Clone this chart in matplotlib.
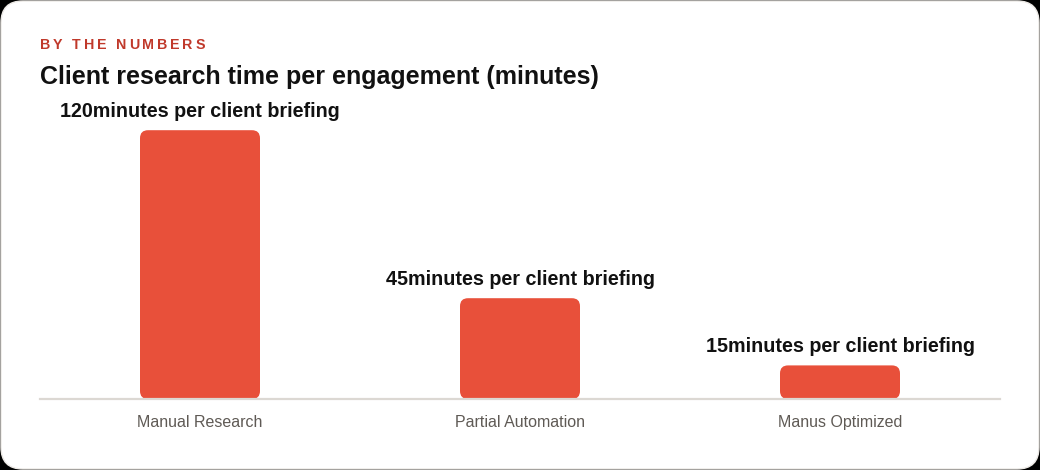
import matplotlib
matplotlib.use("Agg")
import matplotlib.pyplot as plt
from matplotlib.patches import FancyBboxPatch

categories = ["Manual Research", "Partial Automation", "Manus Optimized"]
values = [120, 45, 15]
value_labels = ["120minutes per client briefing", "45minutes per client briefing", "15minutes per client briefing"]
eyebrow = "BY THE NUMBERS"
title = "Client research time per engagement (minutes)"

W, H = 1040, 470
DPI = 100
plt.rcParams['font.family'] = ['Liberation Sans', 'DejaVu Sans']

fig = plt.figure(figsize=(W / DPI, H / DPI), dpi=DPI)
fig.patch.set_facecolor('black')

# card
card = FancyBboxPatch((1 / W, 1 / H), (W - 2) / W, (H - 2) / H,
                      boxstyle="round,pad=0,rounding_size=0.021",
                      mutation_aspect=W / H,
                      transform=fig.transFigure, facecolor='white',
                      edgecolor='#ece9e5', linewidth=1.0, zorder=-10)
fig.patches.append(card)

# axes geometry in pixels
x0, x1 = 40, 1000
y_base = 399
ymax = 140
px_per_unit = 2.24
top_px = y_base - ymax * px_per_unit
ax = fig.add_axes([x0 / W, 1 - y_base / H, (x1 - x0) / W, (y_base - top_px) / H])
ax.set_zorder(5)
ax.set_facecolor('none')
ax.set_xlim(-0.5, len(categories) - 0.5)
ax.set_ylim(0, ymax)

bar_color = '#E8503A'
bars = ax.bar(range(len(categories)), values, width=0.375, color=bar_color)
xu_per_px = (len(categories)) / (x1 - x0)
yu_per_px = 1 / px_per_unit
r_px = 8
for b in bars:
    b.set_visible(False)
    p = FancyBboxPatch((b.get_x(), b.get_y()), b.get_width(), b.get_height(),
                       boxstyle=f"round,pad=0,rounding_size={r_px * xu_per_px}",
                       mutation_aspect=yu_per_px / xu_per_px,
                       facecolor=bar_color, edgecolor='none', zorder=2)
    ax.add_patch(p)

for i, (v, lab) in enumerate(zip(values, value_labels)):
    ax.annotate(lab, (i, v), xytext=(0, 9.3), textcoords='offset points',
                ha='center', va='baseline', fontsize=14.2, fontweight='bold',
                color='#111111')

for s in ['top', 'right', 'left']:
    ax.spines[s].set_visible(False)
ax.spines['bottom'].set_color('#dcd8d3')
ax.spines['bottom'].set_linewidth(1.6)
ax.set_yticks([])
ax.set_xticks(range(len(categories)))
ax.set_xticklabels(categories, fontsize=11.5, color='#5f5a55')
ax.tick_params(axis='x', length=0, pad=11.5)

# title
fig.text(40 / W, 1 - 77 / H, title, fontsize=18, fontweight='bold', color='#111111',
         ha='left', va='center')

# eyebrow with letter spacing
renderer = fig.canvas.get_renderer()
x = 40.0
spacing = 2.8
for ch in eyebrow:
    t = fig.text(x / W, 1 - 45 / H, ch, fontsize=10.3, fontweight='bold',
                 color='#C0392B', ha='left', va='center')
    w = t.get_window_extent(renderer=renderer).width
    if ch == ' ':
        w = t.get_fontsize() * DPI / 72 * 0.28
    x += w + spacing

fig.savefig('out.png', dpi=DPI, facecolor=fig.get_facecolor())
